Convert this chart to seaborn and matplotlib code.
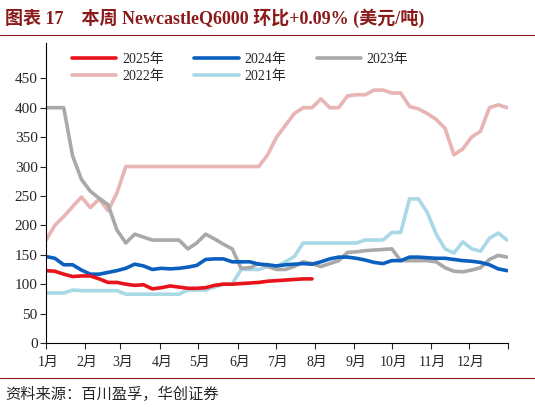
import numpy as np
import pandas as pd
import matplotlib.pyplot as plt
import seaborn as sns
from matplotlib.lines import Line2D

y2022 = [175, 200, 215, 232, 248, 230, 245, 225, 255, 300] + [300] * 15 + [
    320, 350, 370, 390, 400, 400, 415, 400, 400, 420, 422, 422, 430, 430, 425, 425,
    402, 398, 390, 380, 365, 320, 330, 350, 360, 400, 405, 400]
y2023 = [400, 400, 400, 318, 278, 258, 246, 235, 192, 170, 185, 180, 175, 175, 175, 175,
         160, 170, 185, 177, 168, 160, 127, 128, 135, 130, 125, 125, 130, 138, 135, 130,
         135, 140, 154, 155, 157, 158, 159, 160, 140, 140, 140, 140, 138, 128, 122, 121,
         124, 128, 142, 149, 146]
y2024 = [147, 144, 133, 133, 124, 117, 117, 120, 123, 127, 134, 131, 125, 127, 126, 127,
         129, 132, 142, 143, 143, 138, 138, 138, 134, 133, 131, 133, 134, 135, 134, 138,
         143, 146, 146, 144, 141, 137, 135, 140, 140, 146, 146, 145, 144, 144, 142, 140,
         139, 137, 133, 126, 123]
y2025 = [123, 122, 117, 113, 114, 114, 109, 103, 103, 100, 98, 99, 92, 94, 97, 95, 93, 93,
         94, 98, 100, 100, 101, 102, 103, 105, 106, 107, 108, 109, 109]
y2021 = [85, 85, 85, 90, 89, 89, 89, 89, 89, 83, 83, 83, 83, 83, 83, 83, 90, 90, 90, 95,
         100, 100, 125, 125, 125, 130, 130, 138, 147, 170, 170, 170, 170, 170, 170, 170,
         175, 175, 175, 188, 188, 245, 245, 222, 185, 160, 153, 172, 160, 156, 178, 187, 175]
months = ["1月", "2月", "3月", "4月", "5月", "6月", "7月", "8月", "9月", "10月", "11月", "12月"]
month_pos = [0, 4.4, 8.4, 12.9, 17.1, 21.6, 25.9, 30.3, 34.7, 39.0, 43.4, 47.7, 52.1]

series = [("2025年", y2025, "#e8131b"), ("2024年", y2024, "#0a5fbf"),
          ("2023年", y2023, "#a9a9a9"), ("2022年", y2022, "#e8b4b4"),
          ("2021年", y2021, "#a9d9e6")]

rows = []
for name, vals, _ in series:
    for w, v in enumerate(vals):
        rows.append({"week": w, "value": v, "year": name})
df = pd.DataFrame(rows)

sns.set_style("white")
plt.rcParams["font.family"] = ["Liberation Serif", "Noto Sans CJK SC"]

fig = plt.figure(figsize=(5.35, 4.09), dpi=100)
ax = fig.add_axes([46 / 535, 1 - 343 / 409, 462 / 535, 300 / 409])
# draw older years first so 2025 sits on top
order = ["2022年", "2021年", "2023年", "2024年", "2025年"]
pal = {n: c for n, _, c in series}
for n in order:
    sns.lineplot(data=df[df["year"] == n], x="week", y="value", color=pal[n], lw=2.6,
                 ax=ax, legend=False)

ax.set_xlim(0, 52.1)
ax.set_ylim(0, 510)
ax.set_yticks(range(0, 451, 50))
ax.set_xticks(month_pos)
ax.set_xticklabels([""] * 13)
for i, m in enumerate(months):
    ax.text(month_pos[i] + 0.2, -22, m, ha="center", va="top", fontsize=10)
ax.tick_params(axis="both", direction="out", length=4, labelsize=11, pad=2, left=True, bottom=True)
ax.set_xlabel("")
ax.set_ylabel("")
for s in ["top", "right"]:
    ax.spines[s].set_visible(False)
for s in ["left", "bottom"]:
    ax.spines[s].set_color("black")
    ax.spines[s].set_linewidth(0.8)

# matplotlib fills legend column-wise; reorder so rows read 2025,2024,2023 / 2022,2021
leg_idx = [0, 3, 1, 4, 2]
handles = [Line2D([], [], color=series[i][2], lw=2.6) for i in leg_idx]
labels = [series[i][0] for i in leg_idx]
ax.legend(handles, labels, ncol=3, frameon=False, loc="upper center",
          bbox_to_anchor=(0.42, 1.01), fontsize=10, handlelength=3.2, columnspacing=2.2,
          labelspacing=0.3, handletextpad=0.4)

fig.text(0.01, 0.955, "图表 17    本周 NewcastleQ6000 环比+0.09% (美元/吨)", fontsize=13,
         fontweight="bold", color="#8b1a1a", va="center")
fig.add_artist(Line2D([0.0, 1.0], [0.915, 0.915], color="#8b1a1a", lw=0.8))
fig.add_artist(Line2D([0.0, 1.0], [0.075, 0.075], color="#8b1a1a", lw=0.8))
fig.text(0.01, 0.035, "资料来源：百川盈孚，华创证券", fontsize=11, style="italic", va="center")

fig.savefig("out.png", dpi=100)
